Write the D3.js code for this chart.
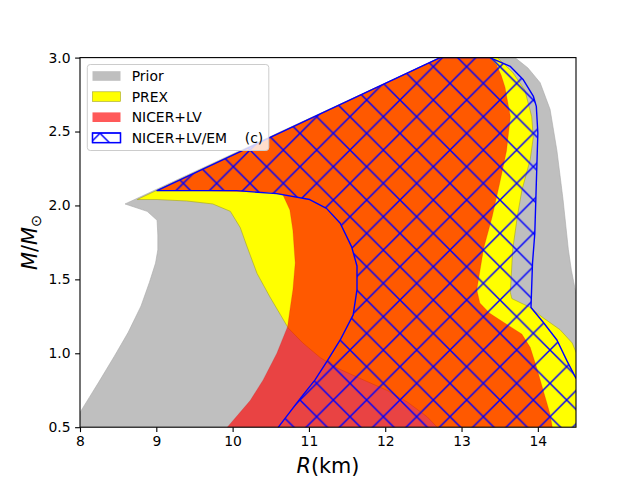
<!DOCTYPE html>
<html>
<head>
<meta charset="utf-8">
<script src="https://cdn.jsdelivr.net/npm/d3@7"></script>
<style>
  html, body { margin: 0; padding: 0; background: #fff; }
  svg { display: block; font-family: "DejaVu Sans", sans-serif; }
</style>
</head>
<body>
<svg id="chart" width="640" height="480"></svg>
<script>
// band outlines as [R (km), M (Msun)]
const priorBand = [
    [8.00, 0.45], [8.00, 0.60], [8.12, 0.70], [8.24, 0.80], [8.45, 0.98], [8.63, 1.14],
    [8.80, 1.32], [8.91, 1.48], [8.99, 1.61], [9.02, 1.70], [9.02, 1.80], [9.01, 1.90],
    [8.88, 1.96], [8.59, 2.01],
    [12.72, 3.00], [13.70, 3.00], [13.87, 2.93], [14.03, 2.83], [14.16, 2.65], [14.25, 2.37],
    [14.33, 2.04], [14.40, 1.70], [14.44, 1.56], [14.49, 1.43], [14.60, 1.20], [14.60, 0.45]
];
const prexBand = [
    [8.75, 2.04], [12.72, 3.00], [13.47, 3.00], [13.67, 2.90], [13.83, 2.78], [13.92, 2.60],
    [13.94, 2.46], [13.90, 2.31], [13.79, 2.10], [13.73, 1.92], [13.67, 1.70], [13.64, 1.41],
    [13.66, 1.37], [13.90, 1.31], [14.07, 1.24], [14.29, 1.16], [14.45, 1.07], [14.49, 1.02],
    [14.60, 0.90], [14.60, 0.45], [12.70, 0.45], [12.68, 0.50], [12.55, 0.57], [12.29, 0.67],
    [12.02, 0.75], [11.67, 0.83], [11.37, 0.90], [11.15, 0.97], [10.92, 1.07], [10.73, 1.17],
    [10.49, 1.38], [10.32, 1.54], [10.19, 1.72], [10.10, 1.85], [9.97, 1.96], [9.74, 2.01],
    [9.40, 2.03], [9.01, 2.04]
];
const nicerLvBand = [
    [9.01, 2.10], [12.72, 3.00], [13.37, 3.00], [13.46, 2.95], [13.52, 2.88], [13.57, 2.80],
    [13.64, 2.60], [13.59, 2.37], [13.50, 2.15], [13.40, 1.92], [13.29, 1.71], [13.20, 1.43],
    [13.24, 1.34], [13.37, 1.27], [13.64, 1.18], [13.79, 1.13], [13.90, 1.04], [13.98, 0.91],
    [14.07, 0.75], [14.16, 0.59], [14.19, 0.50], [14.20, 0.45], [9.90, 0.45], [9.93, 0.50],
    [10.23, 0.68], [10.40, 0.82], [10.58, 1.00], [10.72, 1.18], [10.75, 1.29], [10.79, 1.43],
    [10.82, 1.61], [10.79, 1.83], [10.75, 1.97], [10.66, 2.07], [10.49, 2.09], [9.50, 2.10]
];
const nicerLvEmBand = [
    [9.01, 2.10], [12.72, 3.00], [13.37, 3.00], [13.64, 2.94], [13.81, 2.85], [13.94, 2.74],
    [13.98, 2.67], [14.00, 2.49], [13.98, 2.15], [13.96, 1.81], [13.93, 1.61], [13.91, 1.31],
    [14.07, 1.21], [14.25, 1.09], [14.38, 0.95], [14.49, 0.84], [14.60, 0.75], [14.60, 0.45],
    [10.56, 0.45], [10.60, 0.50], [10.88, 0.69], [11.08, 0.82], [11.23, 0.94], [11.41, 1.09],
    [11.58, 1.26], [11.63, 1.43], [11.63, 1.59], [11.56, 1.72], [11.41, 1.88], [11.23, 1.98],
    [11.01, 2.04], [10.58, 2.08], [10.05, 2.10]
];
const xTicks = [8, 9, 10, 11, 12, 13, 14];
const yTicks = [0.5, 1.0, 1.5, 2.0, 2.5, 3.0];
const legendLabels = ["Prior", "PREX", "NICER+LV", "NICER+LV/EM    (c)"];

const svg = d3.select("#chart");
const pLeft = 80, pRight = 576, pTop = 57.6, pBottom = 427.2;
const x = d3.scaleLinear().domain([8, 14.5]).range([pLeft, pRight]);
const y = d3.scaleLinear().domain([0.5, 3.0]).range([pBottom, pTop]);

const defs = svg.append("defs");
defs.append("clipPath").attr("id", "plot-clip")
    .append("rect")
    .attr("x", pLeft).attr("y", pTop)
    .attr("width", pRight - pLeft).attr("height", pBottom - pTop);

// cross hatch, 3 lines per inch at 100 dpi
const w = 100 / 3;
defs.append("pattern")
    .attr("id", "xhatch")
    .attr("patternUnits", "userSpaceOnUse")
    .attr("width", w).attr("height", w)
    .append("path")
    .attr("d", `M${-w},0L${w},${2*w}M${-w},${-w}L${2*w},${2*w}M0,${-w}L${2*w},${w}` +
               `M${-w},${w}L${w},${-w}M${-w},${2*w}L${2*w},${-w}M0,${2*w}L${2*w},0`)
    .attr("stroke", "#0000ff")
    .attr("stroke-width", 1.45)
    .attr("fill", "none");

const line = d3.line().x(d => x(d[0])).y(d => y(d[1]));
const plot = svg.append("g").attr("clip-path", "url(#plot-clip)");

plot.append("path").attr("d", line(priorBand) + "Z")
    .attr("fill", "#bfbfbf").attr("stroke", "#a9a9a9").attr("stroke-width", 0.6);
plot.append("path").attr("d", line(prexBand) + "Z")
    .attr("fill", "#ffff00").attr("stroke", "#a5a51e").attr("stroke-width", 0.6);
plot.append("path").attr("d", line(nicerLvBand) + "Z")
    .attr("fill", "#ff0000").attr("fill-opacity", 0.65)
    .attr("stroke", "#c81e1e").attr("stroke-opacity", 0.35).attr("stroke-width", 0.6);
plot.append("path").attr("d", line(nicerLvEmBand) + "Z")
    .attr("fill", "url(#xhatch)")
    .attr("stroke", "#0000ff").attr("stroke-width", 1.4).attr("stroke-linejoin", "round");

// axes
const xAxis = svg.append("g")
    .attr("transform", `translate(0,${pBottom})`)
    .call(d3.axisBottom(x).tickValues(xTicks).tickFormat(d3.format("d")).tickSize(4.9).tickPadding(4.5));
const yAxis = svg.append("g")
    .attr("transform", `translate(${pLeft},0)`)
    .call(d3.axisLeft(y).tickValues(yTicks).tickFormat(d3.format(".1f")).tickSize(4.9).tickPadding(4.5));
[xAxis, yAxis].forEach(g => {
    g.select(".domain").remove();
    g.selectAll(".tick line").attr("stroke", "#000").attr("stroke-width", 1.1);
    g.selectAll(".tick text")
        .attr("fill", "#000")
        .style("font-family", "DejaVu Sans")
        .style("font-size", "13.9px");
});

svg.append("rect")
    .attr("x", pLeft).attr("y", pTop)
    .attr("width", pRight - pLeft).attr("height", pBottom - pTop)
    .attr("fill", "none").attr("stroke", "#000").attr("stroke-width", 1.1);

// axis labels
const xl = svg.append("text")
    .attr("x", (pLeft + pRight) / 2).attr("y", 473)
    .attr("text-anchor", "middle")
    .style("font-size", "20.8px");
xl.append("tspan").style("font-style", "italic").text("R");
xl.append("tspan").text("(km)");

const yl = svg.append("text")
    .attr("transform", `translate(37,${(pTop + pBottom) / 2}) rotate(-90)`)
    .attr("text-anchor", "middle")
    .style("font-size", "20.8px");
yl.append("tspan").style("font-style", "italic").text("M");
yl.append("tspan").text("/");
yl.append("tspan").style("font-style", "italic").text("M");
yl.append("tspan").attr("dy", 4).style("font-size", "14.5px").text("⊙");

// legend
const lg = svg.append("g");
lg.append("rect")
    .attr("x", 87.3).attr("y", 64.5)
    .attr("width", 181.5).attr("height", 86)
    .attr("rx", 3)
    .attr("fill", "#fff").attr("fill-opacity", 0.8)
    .attr("stroke", "#cccccc").attr("stroke-width", 1);

const patchStyles = [
    { fill: "#bfbfbf", stroke: "none", opacity: 1 },
    { fill: "#ffff00", stroke: "#a5a51e", opacity: 1 },
    { fill: "#ff0000", stroke: "none", opacity: 0.65 },
    { fill: "#ffffff", stroke: "#0000ff", opacity: 1 }
];
legendLabels.forEach((label, i) => {
    const cy = 76 + i * 20.6;
    const st = patchStyles[i];
    lg.append("rect")
        .attr("x", 92.5).attr("y", cy - 4.8)
        .attr("width", 28).attr("height", 9.6)
        .attr("fill", st.fill).attr("fill-opacity", st.opacity)
        .attr("stroke", st.stroke).attr("stroke-width", i == 3 ? 1.3 : 0.6);
    if (i == 3) {
        lg.append("rect")
            .attr("x", 92.5).attr("y", cy - 4.8)
            .attr("width", 28).attr("height", 9.6)
            .attr("fill", "url(#xhatch)")
            .attr("stroke", "#0000ff").attr("stroke-width", 1.3);
    }
    lg.append("text")
        .attr("x", 131.7).attr("y", cy + 5)
        .style("font-size", "13.9px")
        .style("white-space", "pre")
        .text(label);
});
</script>
</body>
</html>
